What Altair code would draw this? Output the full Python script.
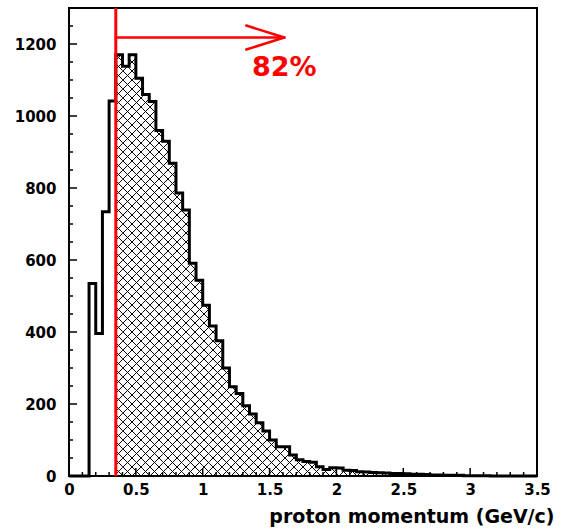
import math
import pandas as pd
import altair as alt

# ---------------- data ----------------
bin_width = 0.05
bin_low = [round(i * bin_width, 2) for i in range(70)]  # 0.00 ... 3.45
counts = [0, 0, 0, 535, 396, 734, 1042,
          1170, 1138, 1170, 1105, 1060, 1040, 960, 930, 869, 786,
          739, 591, 544, 474, 417, 376, 300, 248, 229, 195,
          172, 148, 125, 100, 81, 81, 58, 45, 40, 38,
          26, 18, 23, 22, 16, 15, 12, 11, 10, 9,
          8, 7, 7, 6, 5, 5, 4, 3, 3, 2,
          2, 2, 1, 1, 1, 1, 0, 0, 0, 0,
          0, 0, 0]
cut = 0.35            # selection cut (red line)
arrow_end = 1.61      # arrow tip (GeV/c)
arrow_y = 1218        # arrow height (counts)
label_text = "82%"
label_y = 1110

x_major = [0, 0.5, 1, 1.5, 2, 2.5, 3, 3.5]
x_minor = [round(0.1 * i, 1) for i in range(36) if i % 5 != 0]
y_major = [0, 200, 400, 600, 800, 1000, 1200]
y_minor = [v for v in range(0, 1300, 50) if v % 200 != 0]

x_title = "proton momentum (GeV/c)"

# ---------------- layout ----------------
W, H = 468, 468
XMAX, YMAX = 3.5, 1300
FONT = "DejaVu Sans"

sx = W / XMAX
sy = H / YMAX

# histogram outline (step)
hist = pd.DataFrame({"x": bin_low + [XMAX], "y": counts + [0]})

# cross-hatch segments clipped to bins above the cut
period = 9.0
segs = []
for lo, c in zip(bin_low, counts):
    if lo < cut - 1e-9 or c <= 0:
        continue
    X0, X1, Y1 = lo * sx, (lo + bin_width) * sx, c * sy
    for k in range(math.floor((X0 - Y1) / period) - 1, math.ceil(X1 / period) + 2):
        k0 = k * period
        a, b = max(X0, k0), min(X1, k0 + Y1)
        if b - a > 0.05:
            segs.append((a / sx, (a - k0) / sy, b / sx, (b - k0) / sy))
    for k in range(math.floor(X0 / period) - 1, math.ceil((X1 + Y1) / period) + 2):
        k0 = k * period
        a, b = max(X0, k0 - Y1), min(X1, k0)
        if b - a > 0.05:
            segs.append((a / sx, (k0 - a) / sy, b / sx, (k0 - b) / sy))
hatch = pd.DataFrame(segs, columns=["x", "y", "x2", "y2"])

xscale = alt.Scale(domain=[0, XMAX], nice=False, zero=False)
yscale = alt.Scale(domain=[0, YMAX], nice=False, zero=False)

xaxis = alt.Axis(values=x_major, format="~g", labelFlush=False, labelOverlap=False,
                 labelPadding=6, labelFont=FONT, labelFontSize=15, labelFontWeight="bold",
                 labelColor="black",
                 title=x_title, titleFont=FONT, titleFontSize=19, titleFontWeight="bold",
                 titleColor="black", titleAnchor="end", titleAlign="right",
                 titleX=485, titleY=46, titleBaseline="alphabetic")
yaxis = alt.Axis(values=y_major, format="d", labelPadding=13, labelFont=FONT,
                 labelFontSize=15, labelFontWeight="bold", labelColor="black",
                 labelOverlap=False, title=None)

base_x = lambda f="x": alt.X(f"{f}:Q", scale=xscale, axis=xaxis)
base_y = lambda f="y": alt.Y(f"{f}:Q", scale=yscale, axis=yaxis)

hatch_layer = alt.Chart(hatch).mark_rule(color="black", strokeWidth=1).encode(
    x=base_x(), y=base_y(), x2="x2:Q", y2="y2:Q")

hist_layer = alt.Chart(hist).mark_line(
    interpolate="step-after", color="black", strokeWidth=3).encode(
    x=base_x(), y=base_y())

# inner ticks
xt_major = alt.Chart(pd.DataFrame({"x": x_major})).mark_rule(color="black", strokeWidth=1.5).encode(
    x=base_x(), y=alt.value(H), y2=alt.value(H - 8))
xt_minor = alt.Chart(pd.DataFrame({"x": x_minor})).mark_rule(color="black", strokeWidth=1.5).encode(
    x=base_x(), y=alt.value(H), y2=alt.value(H - 4))
yt_major = alt.Chart(pd.DataFrame({"y": y_major})).mark_rule(color="black", strokeWidth=1.5).encode(
    y=base_y(), x=alt.value(0), x2=alt.value(8))
yt_minor = alt.Chart(pd.DataFrame({"y": y_minor})).mark_rule(color="black", strokeWidth=1.5).encode(
    y=base_y(), x=alt.value(0), x2=alt.value(4))

# red cut line
cut_layer = alt.Chart(pd.DataFrame({"x": [cut]})).mark_rule(color="red", strokeWidth=3).encode(
    x=base_x(), y=alt.value(0), y2=alt.value(H))

# arrow
head_len, head_half = 38, 12
arrow = pd.DataFrame({
    "x": [cut, arrow_end - head_len / sx, arrow_end - head_len / sx],
    "y": [arrow_y, arrow_y + head_half / sy, arrow_y - head_half / sy],
    "x2": [arrow_end, arrow_end, arrow_end],
    "y2": [arrow_y, arrow_y, arrow_y],
})
arrow_layer = alt.Chart(arrow).mark_rule(color="red", strokeWidth=2.5, strokeCap="round").encode(
    x=base_x(), y=base_y(), x2="x2:Q", y2="y2:Q")

text_layer = alt.Chart(pd.DataFrame({"x": [arrow_end], "y": [label_y], "t": [label_text]})).mark_text(
    color="red", font=FONT, fontSize=27, fontWeight="bold", align="center", baseline="alphabetic"
).encode(x=base_x(), y=base_y(), text="t:N")

chart = alt.layer(
    hatch_layer, hist_layer, xt_major, xt_minor, yt_major, yt_minor,
    cut_layer, arrow_layer, text_layer
).properties(
    width=W, height=H,
    autosize=alt.AutoSizeParams(type="none"),
    padding={"left": 69, "top": 8, "right": 29, "bottom": 53},
    background="white",
).configure_view(
    stroke="black", strokeWidth=2
).configure_axis(
    domain=False, ticks=False, grid=False
)

chart.save("out.html", embed_options={"renderer": "svg", "actions": False})
